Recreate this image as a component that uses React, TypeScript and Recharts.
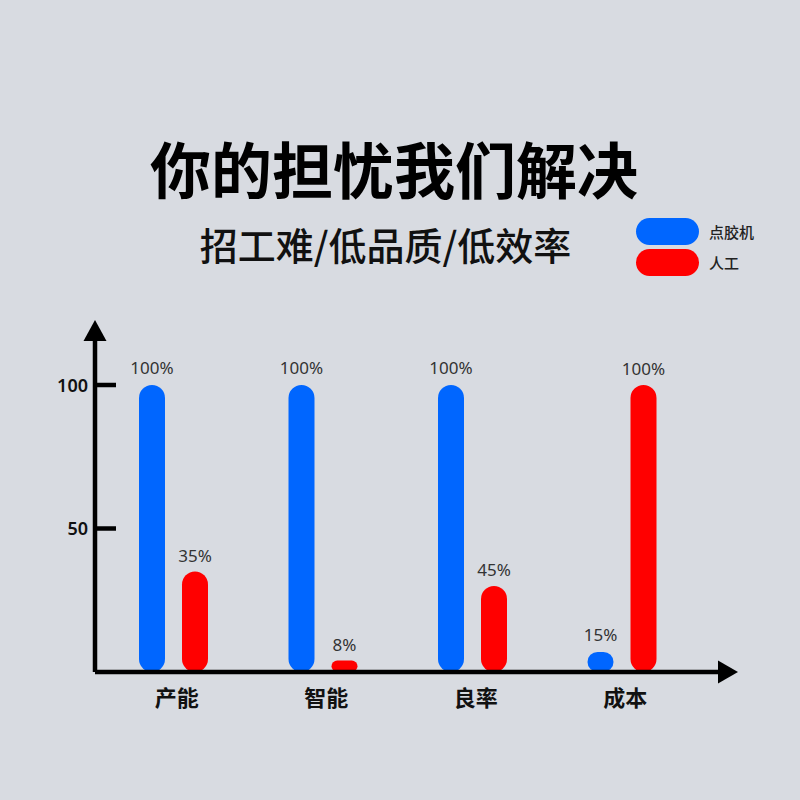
import React from 'react';
import { BarChart, Bar, XAxis, YAxis, Legend, LabelList } from 'recharts';

const categories = ['产能', '智能', '良率', '成本'];
const machineValues = [100, 100, 100, 7];
const laborValues = [35, 4, 30, 100];
const machineLabels = ['100%', '100%', '100%', '15%'];
const laborLabels = ['35%', '8%', '45%', '100%'];
const yTicks = [50, 100];
const seriesNames = ['点胶机', '人工'];
const titleText = '你的担忧我们解决';
const subtitleText = '招工难/低品质/低效率';

const BLUE = '#0066ff';
const RED = '#ff0000';
const BG = '#d8dbe1';
const FONT = '"Noto Sans CJK SC", "Noto Sans", sans-serif';
const NUM_FONT = '"Noto Sans", "Noto Sans CJK SC", sans-serif';

const data = categories.map((c, i) => ({
  name: c,
  machine: machineValues[i],
  labor: laborValues[i],
  machineLabel: machineLabels[i],
  laborLabel: laborLabels[i],
}));

const YTick = (props: any) => {
  const { x, y, payload } = props;
  return (
    <g>
      <line x1={x} x2={x + 21} y1={y} y2={y} stroke="#000" strokeWidth={4.5} />
      <text
        x={x - 7}
        y={y + 6.5}
        textAnchor="end"
        fontSize={18}
        fontWeight={600}
        fontFamily={NUM_FONT}
        fill="#111"
      >
        {payload.value}
      </text>
    </g>
  );
};

const XTick = (props: any) => {
  const { x, y, payload } = props;
  return (
    <text x={x + 3} y={y + 34} textAnchor="middle" fontSize={22} fontWeight={700} fontFamily={FONT} fill="#111">
      {payload.value}
    </text>
  );
};

const YArrow = (props: any) => {
  const vb = props.viewBox || props;
  const ax = vb.x + vb.width;
  const top = vb.y;
  return <polygon points={`${ax - 11.5},${top + 11} ${ax + 11.5},${top + 11} ${ax},${top - 10}`} fill="#000" />;
};

const XArrow = (props: any) => {
  const vb = props.viewBox || props;
  const end = vb.x + vb.width;
  const ly = vb.y;
  return <polygon points={`${end - 10},${ly - 11.5} ${end - 10},${ly + 11.5} ${end + 10},${ly}`} fill="#000" />;
};

const LegendContent = (props: any) => {
  const payload = [...(props.payload || [])].sort(
    (a: any, b: any) => seriesNames.indexOf(a.value) - seriesNames.indexOf(b.value)
  );
  return (
    <div style={{ display: 'flex', flexDirection: 'column', gap: 4 }}>
      {payload.map((e: any, i: number) => (
        <div key={i} style={{ display: 'flex', alignItems: 'center' }}>
          <div style={{ width: 63, height: 27, borderRadius: 13.5, background: e.color }} />
          <span style={{ marginLeft: 10, fontSize: 15, color: '#222', fontFamily: FONT, fontWeight: 500 }}>{e.value}</span>
        </div>
      ))}
    </div>
  );
};

export default function App() {
  return (
    <div
      style={{
        position: 'absolute',
        left: 0,
        top: 0,
        width: 800,
        height: 800,
        background: BG,
        fontFamily: FONT,
        overflow: 'hidden',
      }}
    >
      <div
        style={{
          position: 'absolute',
          left: 0,
          width: 788,
          top: 137,
          textAlign: 'center',
          fontSize: 61,
          lineHeight: '61px',
          fontWeight: 700,
          color: '#000',
          whiteSpace: 'nowrap',
        }}
      >
        {titleText}
      </div>
      <div
        style={{
          position: 'absolute',
          left: 0,
          width: 771,
          top: 225,
          textAlign: 'center',
          fontSize: 38,
          lineHeight: '38px',
          fontWeight: 500,
          color: '#111',
          whiteSpace: 'nowrap',
        }}
      >
        {subtitleText}
      </div>
      <div style={{ position: 'absolute', left: 0, top: 0 }}>
        <BarChart
          width={800}
          height={800}
          data={data}
          margin={{ top: 330, right: 72, left: 35, bottom: 88 }}
          barSize={26}
          barGap={17}
        >
          <XAxis
            dataKey="name"
            height={40}
            padding={{ left: 4, right: 31 }}
            axisLine={{ stroke: '#000', strokeWidth: 4.5 }}
            tickLine={false}
            tickSize={0}
            tickMargin={0}
            tick={<XTick />}
            interval={0}
            label={(p: any) => <XArrow {...p} />}
          />
          <YAxis
            width={60}
            domain={[0, 100]}
            ticks={yTicks}
            padding={{ top: 55, bottom: 0 }}
            axisLine={{ stroke: '#000', strokeWidth: 4.5 }}
            tickLine={false}
            tickSize={0}
            tickMargin={0}
            tick={<YTick />}
            interval={0}
            label={(p: any) => <YArrow {...p} />}
          />
          <Legend
            layout="horizontal"
            verticalAlign="middle"
            align="center"
            wrapperStyle={{ top: 218, left: 636, width: 'auto' }}
            content={<LegendContent />}
          />
          <Bar dataKey="machine" name={seriesNames[0]} fill={BLUE} radius={13} isAnimationActive={false}>
            <LabelList dataKey="machineLabel" position="top" offset={11} fill="#333" fontSize={17} fontFamily={NUM_FONT} />
          </Bar>
          <Bar dataKey="labor" name={seriesNames[1]} fill={RED} radius={13} isAnimationActive={false}>
            <LabelList dataKey="laborLabel" position="top" offset={10} fill="#333" fontSize={17} fontFamily={NUM_FONT} />
          </Bar>
        </BarChart>
      </div>
    </div>
  );
}
